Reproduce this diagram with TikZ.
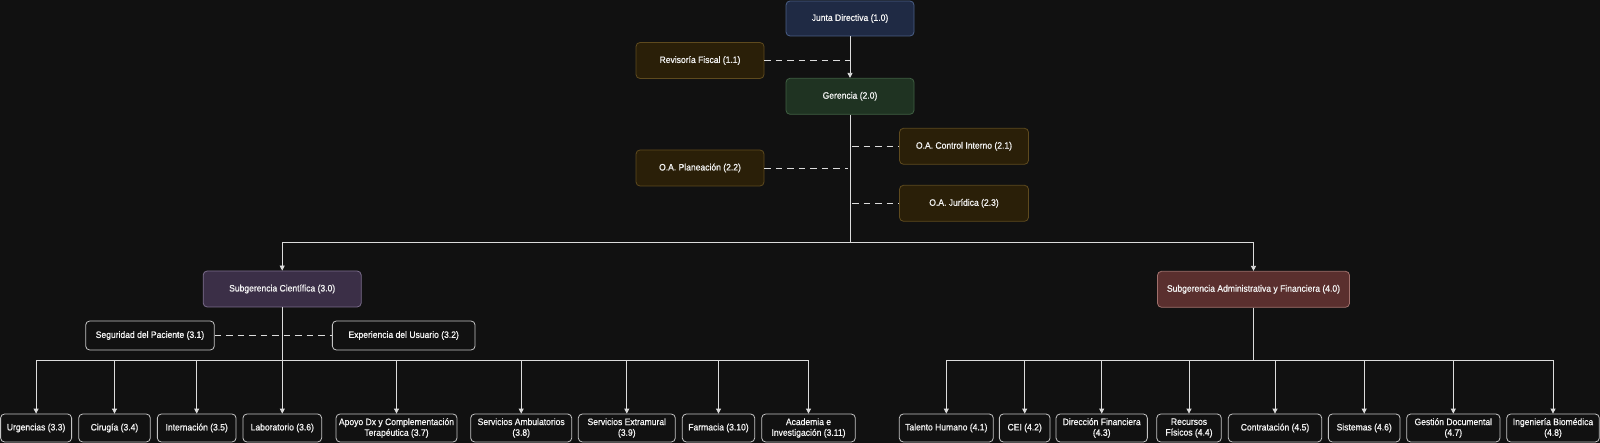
\documentclass[tikz,border=0pt]{standalone}
\usepackage{fontspec}
\setmainfont{Liberation Sans}[FakeStretch=0.92,FakeBold=0.8]
\usetikzlibrary{arrows.meta}
\definecolor{bg}{HTML}{111111}
\definecolor{txt}{HTML}{F4F4F4}
\definecolor{lncol}{HTML}{DCDCDC}
\definecolor{jdfill}{HTML}{1F2A44}
\definecolor{jddraw}{HTML}{4A5F87}
\definecolor{gefill}{HTML}{1F3322}
\definecolor{gedraw}{HTML}{3F5F42}
\definecolor{oafill}{HTML}{2A1F08}
\definecolor{oadraw}{HTML}{5E4A1E}
\definecolor{scfill}{HTML}{3B2F47}
\definecolor{scdraw}{HTML}{7B6D8C}
\definecolor{safill}{HTML}{5A2F2E}
\definecolor{sadraw}{HTML}{A0706C}
\definecolor{pldraw}{HTML}{C4C4C4}
\begin{document}
\begin{tikzpicture}[x=1pt,y=-1pt,
  box/.style={draw, rounded corners=4pt, line width=0.8pt, text=txt,
    font=\fontsize{9.3}{10.7}\selectfont, align=center, inner sep=0pt,
    minimum height=36pt},
  jdbox/.style={box, fill=jdfill, draw=jddraw},
  gebox/.style={box, fill=gefill, draw=gedraw},
  oabox/.style={box, fill=oafill, draw=oadraw},
  scbox/.style={box, fill=scfill, draw=scdraw},
  sabox/.style={box, fill=safill, draw=sadraw},
  plbox/.style={box, fill=bg, draw=pldraw, minimum height=29pt},
  leaf/.style={box, fill=bg, draw=pldraw, minimum height=28pt},
  ln/.style={draw=lncol, line width=0.8pt},
  arr/.style={ln, -{Triangle[length=5pt,width=5pt]}},
  dsh/.style={ln, dash pattern=on 6.5pt off 5pt}
]
\fill[bg] (0,0) rectangle (1600,443);
\useasboundingbox (0,0) rectangle (1600,443);

% top levels
\node[jdbox, minimum width=128pt, minimum height=35pt] (junta) at (850,18.5) {Junta Directiva (1.0)};
\node[oabox, minimum width=128pt] (revisoria) at (700,60.5) {Revisoría Fiscal (1.1)};
\node[gebox, minimum width=128pt] (gerencia) at (850,96.3) {Gerencia (2.0)};
\node[oabox, minimum width=129pt] (control) at (964,146.3) {O.A. Control Interno (2.1)};
\node[oabox, minimum width=128pt] (planeacion) at (700,168) {O.A. Planeación (2.2)};
\node[oabox, minimum width=129pt] (juridica) at (964,203.3) {O.A. Jurídica (2.3)};

\node[scbox, minimum width=158pt] (cientifica) at (282.2,289) {Subgerencia Científica (3.0)};
\node[sabox, minimum width=192pt] (admin) at (1253.5,289.3) {Subgerencia Administrativa y Financiera (4.0)};

\node[plbox, minimum width=128.6pt] (seguridad) at (150,335.5) {Seguridad del Paciente (3.1)};
\node[plbox, minimum width=142.7pt] (experiencia) at (403.7,335.5) {Experiencia del Usuario (3.2)};

% leaves left
\node[leaf, minimum width=71pt] (urgencias) at (36.1,428) {Urgencias (3.3)};
\node[leaf, minimum width=71.6pt] (cirugia) at (114.5,428) {Cirugía (3.4)};
\node[leaf, minimum width=78.7pt] (internacion) at (196.7,428) {Internación (3.5)};
\node[leaf, minimum width=78.7pt] (laboratorio) at (282.3,428) {Laboratorio (3.6)};
\node[leaf, minimum width=121pt] (apoyo) at (396.5,428) {Apoyo Dx y Complementación\\Terapéutica (3.7)};
\node[leaf, minimum width=101pt] (servamb) at (521.2,428) {Servicios Ambulatorios\\(3.8)};
\node[leaf, minimum width=97pt] (servext) at (626.8,428) {Servicios Extramural\\(3.9)};
\node[leaf, minimum width=72.4pt] (farmacia) at (718.5,428) {Farmacia (3.10)};
\node[leaf, minimum width=93.6pt] (academia) at (808.5,428) {Academia e\\Investigación (3.11)};

% leaves right
\node[leaf, minimum width=94pt] (talento) at (946.3,428) {Talento Humano (4.1)};
\node[leaf, minimum width=50.7pt] (cei) at (1024.7,428) {CEI (4.2)};
\node[leaf, minimum width=91.3pt] (direccion) at (1101.7,428) {Dirección Financiera\\(4.3)};
\node[leaf, minimum width=64.6pt] (recursos) at (1189,428) {Recursos\\Físicos (4.4)};
\node[leaf, minimum width=93.4pt] (contratacion) at (1275,428) {Contratación (4.5)};
\node[leaf, minimum width=71.7pt] (sistemas) at (1364.2,428) {Sistemas (4.6)};
\node[leaf, minimum width=93.3pt] (gestion) at (1453.3,428) {Gestión Documental\\(4.7)};
\node[leaf, minimum width=92.6pt] (ingenieria) at (1553,428) {Ingeniería Biomédica\\(4.8)};

% connectors
\coordinate (topbus) at (850,242.5);
\coordinate (lbus) at (282.2,360);
\coordinate (rbus) at (1253.5,360);

\draw[arr] (junta) -- (gerencia);
\draw[dsh] (revisoria) -- (revisoria -| gerencia);
\draw[dsh] (planeacion) -- ([xshift=-2pt]planeacion -| gerencia);
\draw[dsh] ([xshift=2pt]control -| gerencia) -- (control);
\draw[dsh] ([xshift=2pt]juridica -| gerencia) -- (juridica);

\draw[ln] (gerencia) -- (topbus);
\draw[arr] (topbus) -| (cientifica);
\draw[arr] (topbus) -| (admin);

\draw[dsh] (seguridad) -- (experiencia);

\draw[ln] (cientifica) -- (lbus);
\foreach \n in {urgencias,cirugia,internacion,laboratorio,apoyo,servamb,servext,farmacia,academia}
  \draw[arr] (lbus) -| (\n);

\draw[ln] (admin) -- (rbus);
\foreach \n in {talento,cei,direccion,recursos,contratacion,sistemas,gestion,ingenieria}
  \draw[arr] (rbus) -| (\n);
\end{tikzpicture}
\end{document}
